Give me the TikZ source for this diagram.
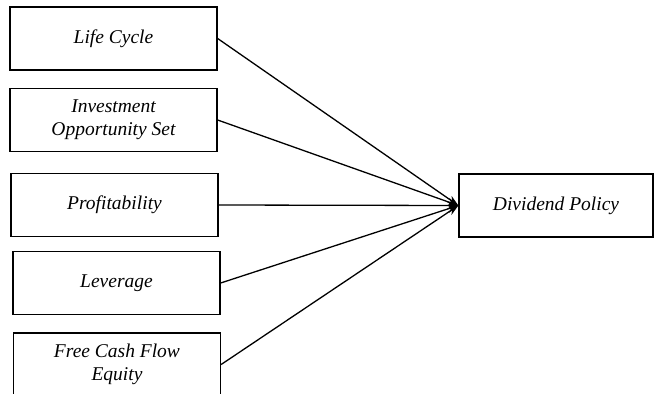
\documentclass[tikz,border=0pt]{standalone}
\usepackage{fontspec}
\setmainfont{Liberation Serif}
\usetikzlibrary{arrows.meta}
\begin{document}
\begin{tikzpicture}[x=1pt,y=-1pt,
  box/.style={draw,line width=1.3pt,minimum width=207pt,minimum height=63pt,
    inner sep=0pt,align=center,font=\fontsize{19.5}{23}\selectfont\itshape},
  dbox/.style={box,minimum width=194pt},
  conn/.style={line width=1.3pt,-{Stealth[length=11pt,width=8pt]}}]
\useasboundingbox (0,0) rectangle (654,394);
\clip (0,0) rectangle (654,394);
\node[box] (lc) at (113.5,38.5) {Life Cycle};
\node[box] (ios) at (113.5,120) {Investment\\Opportunity Set};
\node[box] (pr) at (114.5,205) {Profitability};
\node[box] (lev) at (116.5,283) {Leverage};
\node[box] (fcf) at (117,364.5) {Free Cash Flow\\Equity};
\node[dbox] (dp) at (556,205.5) {Dividend Policy};
\foreach \n in {lc,ios,pr,lev,fcf}
  \draw[conn] (\n.east) -- (dp.west);
\end{tikzpicture}
\end{document}
